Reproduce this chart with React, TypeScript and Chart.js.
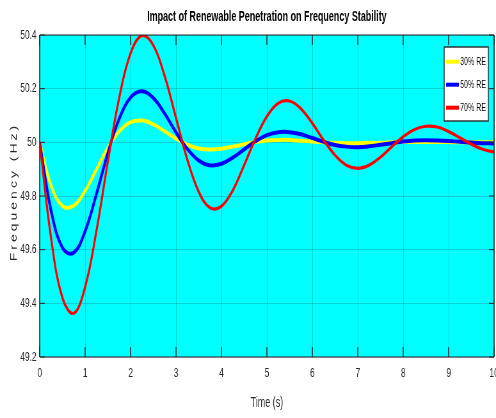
import React, { useEffect, useRef } from 'react';
import { Chart, registerables } from 'chart.js';

Chart.register(...registerables);

// ---- data ----
const times = [
  0, 0.25, 0.5, 0.75, 1, 1.25, 1.5, 1.75, 2, 2.25, 2.5, 2.75, 3, 3.25, 3.5, 3.75, 4, 4.25, 4.5, 4.75,
  5, 5.25, 5.5, 5.75, 6, 6.25, 6.5, 6.75, 7, 7.25, 7.5, 7.75, 8, 8.25, 8.5, 8.75, 9, 9.25, 9.5, 9.75, 10,
];
const re30 = [
  50.0, 49.839, 49.763, 49.764, 49.819, 49.9, 49.98, 50.041, 50.075, 50.081, 50.067, 50.041, 50.014,
  49.991, 49.977, 49.973, 49.976, 49.984, 49.993, 50.001, 50.007, 50.009, 50.009, 50.006, 50.003, 50.0,
  49.998, 49.997, 49.997, 49.998, 49.998, 50.0, 50.001, 50.001, 50.001, 50.001, 50.001, 50.0, 50.0, 50.0, 50.0,
];
const re50 = [
  50.0, 49.746, 49.607, 49.589, 49.669, 49.808, 49.96, 50.088, 50.167, 50.19, 50.165, 50.107, 50.037,
  49.975, 49.932, 49.914, 49.92, 49.943, 49.974, 50.004, 50.027, 50.038, 50.038, 50.03, 50.016, 50.002,
  49.99, 49.984, 49.982, 49.985, 49.991, 49.997, 50.003, 50.007, 50.008, 50.007, 50.005, 50.002, 49.999, 49.997, 49.996,
];
const re70 = [
  50.0, 49.644, 49.421, 49.363, 49.461, 49.671, 49.928, 50.166, 50.332, 50.398, 50.362, 50.247, 50.091,
  49.935, 49.816, 49.756, 49.762, 49.821, 49.915, 50.014, 50.097, 50.146, 50.154, 50.125, 50.071, 50.008,
  49.952, 49.915, 49.903, 49.915, 49.945, 49.984, 50.021, 50.048, 50.06, 50.057, 50.04, 50.017, 49.993, 49.974, 49.964,
];
const seriesLabels = ['30% RE', '50% RE', '70% RE'];
const seriesColors = ['#ffff00', '#0000ff', '#ff0000'];
const seriesWidths = [4, 4, 3.2];
const xTicks = [0, 1, 2, 3, 4, 5, 6, 7, 8, 9, 10];
const yTicks = [49.2, 49.4, 49.6, 49.8, 50, 50.2, 50.4];
const titleText = 'Impact of Renewable Penetration on Frequency Stability';
const xTitle = 'Time (s)';
const yTitle = 'Frequency (Hz)';

// ---- layout / styling ----
const SX = 0.64; // horizontal squeeze of the reference picture
const W = 775;
const H = 418;
const FONT = '"Liberation Sans", Arial, sans-serif';
const AXIS = '#262626';
const GRID = 'rgba(38,38,38,0.2)';
const BG = '#00ffff';

const decorPlugin = {
  id: 'decor',
  beforeDraw(chart: any) {
    const { ctx, chartArea: ca } = chart;
    ctx.save();
    ctx.fillStyle = BG;
    ctx.fillRect(ca.left, ca.top, ca.right - ca.left, ca.bottom - ca.top);
    ctx.restore();
  },
  afterDraw(chart: any) {
    const { ctx, chartArea: ca, scales } = chart;
    ctx.save();
    // tick marks inside the box on all four sides
    ctx.strokeStyle = AXIS;
    ctx.lineWidth = 1.5;
    xTicks.forEach((v) => {
      const px = scales.x.getPixelForValue(v);
      ctx.beginPath();
      ctx.moveTo(px, ca.top);
      ctx.lineTo(px, ca.top + 10);
      ctx.moveTo(px, ca.bottom);
      ctx.lineTo(px, ca.bottom - 10);
      ctx.stroke();
    });
    ctx.lineWidth = 1;
    yTicks.forEach((v) => {
      const py = scales.y.getPixelForValue(v);
      ctx.beginPath();
      ctx.moveTo(ca.left, py);
      ctx.lineTo(ca.left + 8, py);
      ctx.moveTo(ca.right, py);
      ctx.lineTo(ca.right - 8, py);
      ctx.stroke();
    });
    // box frame
    ctx.lineWidth = 1;
    ctx.beginPath();
    ctx.moveTo(ca.left, ca.top);
    ctx.lineTo(ca.right, ca.top);
    ctx.moveTo(ca.left, ca.bottom);
    ctx.lineTo(ca.right, ca.bottom);
    ctx.stroke();
    ctx.lineWidth = 1.6;
    ctx.beginPath();
    ctx.moveTo(ca.left, ca.top);
    ctx.lineTo(ca.left, ca.bottom);
    ctx.moveTo(ca.right, ca.top);
    ctx.lineTo(ca.right, ca.bottom);
    ctx.stroke();

    // legend box
    const bl = ca.right - 78;
    const br = ca.right - 9;
    const bt = ca.top + 12;
    const bb = bt + 74;
    ctx.fillStyle = '#ffffff';
    ctx.fillRect(bl, bt, br - bl, bb - bt);
    ctx.strokeStyle = AXIS;
    ctx.lineWidth = 1.4;
    ctx.strokeRect(bl, bt, br - bl, bb - bt);
    ctx.font = `11px ${FONT}`;
    ctx.textAlign = 'left';
    ctx.textBaseline = 'middle';
    seriesLabels.forEach((lab, i) => {
      const y = bt + 14.7 + i * 23;
      ctx.strokeStyle = seriesColors[i];
      ctx.lineWidth = 4;
      ctx.beginPath();
      ctx.moveTo(bl + 3, y);
      ctx.lineTo(bl + 23, y);
      ctx.stroke();
      ctx.fillStyle = '#000000';
      ctx.fillText(lab, bl + 25, y + 0.5);
    });

    // y-axis title (spaced letters, rotated)
    ctx.translate(22, (ca.top + ca.bottom) / 2 - 4);
    ctx.rotate(-Math.PI / 2);
    ctx.font = `14px ${FONT}`;
    (ctx as any).letterSpacing = '3px';
    ctx.fillStyle = AXIS;
    ctx.textAlign = 'center';
    ctx.textBaseline = 'middle';
    ctx.fillText(yTitle, 0, 0);
    ctx.restore();
  },
};

export default function App() {
  const ref = useRef<HTMLCanvasElement | null>(null);

  useEffect(() => {
    const canvas = ref.current;
    if (!canvas) return;
    const series = [re30, re50, re70];
    const chart = new Chart(canvas, {
      type: 'line',
      data: {
        datasets: series.map((vals, i) => ({
          label: seriesLabels[i],
          data: times.map((t, j) => ({ x: t, y: vals[j] })),
          borderColor: seriesColors[i],
          backgroundColor: seriesColors[i],
          borderWidth: seriesWidths[i],
          pointRadius: 0,
          tension: 0.4,
          fill: false,
          order: series.length - 1 - i,
        })),
      },
      options: {
        responsive: false,
        animation: false,
        devicePixelRatio: 1,
        layout: { padding: { left: 0, right: 3, top: 0, bottom: 0 } },
        plugins: {
          legend: { display: false },
          tooltip: { enabled: false },
          title: {
            display: true,
            text: titleText,
            fullSize: false,
            color: '#000000',
            font: { family: FONT, size: 14, weight: 'bold' },
            padding: { top: 8.6, bottom: 9.6 },
          },
        },
        scales: {
          x: {
            type: 'linear',
            min: 0,
            max: 10,
            afterBuildTicks: (s: any) => {
              s.ticks = xTicks.map((v) => ({ value: v }));
            },
            afterFit: (s: any) => {
              s.height = 61;
              s.paddingLeft = 0;
              s.paddingRight = 0;
            },
            ticks: {
              font: { family: FONT, size: 13 },
              color: AXIS,
              padding: 9,
              maxRotation: 0,
              autoSkip: false,
              callback: (v: any) => String(v),
            },
            grid: { color: GRID, drawTicks: false, lineWidth: 1 },
            border: { display: false },
            title: {
              display: true,
              text: xTitle,
              color: AXIS,
              font: { family: FONT, size: 14 },
              padding: { top: 0, bottom: 6.6 },
            },
          },
          y: {
            type: 'linear',
            min: 49.2,
            max: 50.4,
            afterBuildTicks: (s: any) => {
              s.ticks = yTicks.map((v) => ({ value: v }));
            },
            afterFit: (s: any) => {
              s.width = 62;
              s.paddingTop = 0;
              s.paddingBottom = 0;
            },
            ticks: {
              font: { family: FONT, size: 13 },
              color: AXIS,
              padding: 5,
              autoSkip: false,
              callback: (v: any) => String(Number(Number(v).toFixed(2))),
            },
            grid: { color: GRID, drawTicks: false, lineWidth: 1 },
            border: { display: false },
          },
        },
      } as any,
      plugins: [decorPlugin],
    });
    return () => chart.destroy();
  }, []);

  return (
    <div
      style={{
        position: 'fixed',
        left: 0,
        top: 0,
        width: 496,
        height: 418,
        overflow: 'hidden',
        background: '#ffffff',
      }}
    >
      <div style={{ width: W, height: H, transform: `scaleX(${SX})`, transformOrigin: '0 0' }}>
        <canvas ref={ref} width={W} height={H} style={{ display: 'block' }} />
      </div>
    </div>
  );
}
